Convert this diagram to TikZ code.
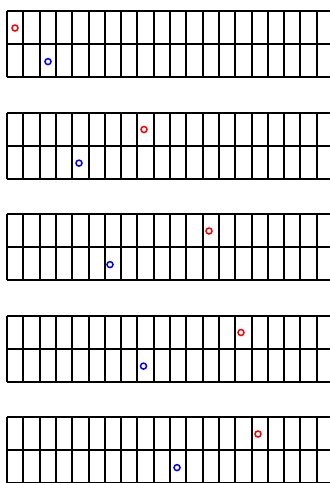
\documentclass[tikz,border=0pt]{standalone}
\usepackage{tikz}
\definecolor{Fret}{HTML}{000000}
\definecolor{Red}{HTML}{FF0000}
\definecolor{Blue}{HTML}{0000FF}
\tikzset{
  fret/.style={line width=2,Fret},
  redmark/.style={draw=Red,line width=1.5},
  bluemark/.style={draw=Blue,line width=1.5}
}

\begin{document}
\begin{tikzpicture}[x=1pt,y=-1pt]
  \useasboundingbox(0,0)rectangle(330,483);
  % one board per row, red dot top string, blue dot bottom string
  \foreach \p/\r/\b in {0/15/48,1/144/79,2/209/110,3/241/143.5,4/258/177}{
    \pgfmathsetmacro\top{11+101.5*\p}
    \foreach \s in {0,33,66}
      \draw[fret](7,\top+\s)--(330,\top+\s);
    \foreach \k in {0,...,19}
      \draw[fret](7+16.3*\k,\top)--(7+16.3*\k,\top+66);
    \draw[redmark](\r,\top+17)circle(3);
    \draw[bluemark](\b,\top+50.6)circle(3);
  }
\end{tikzpicture}
\end{document}
